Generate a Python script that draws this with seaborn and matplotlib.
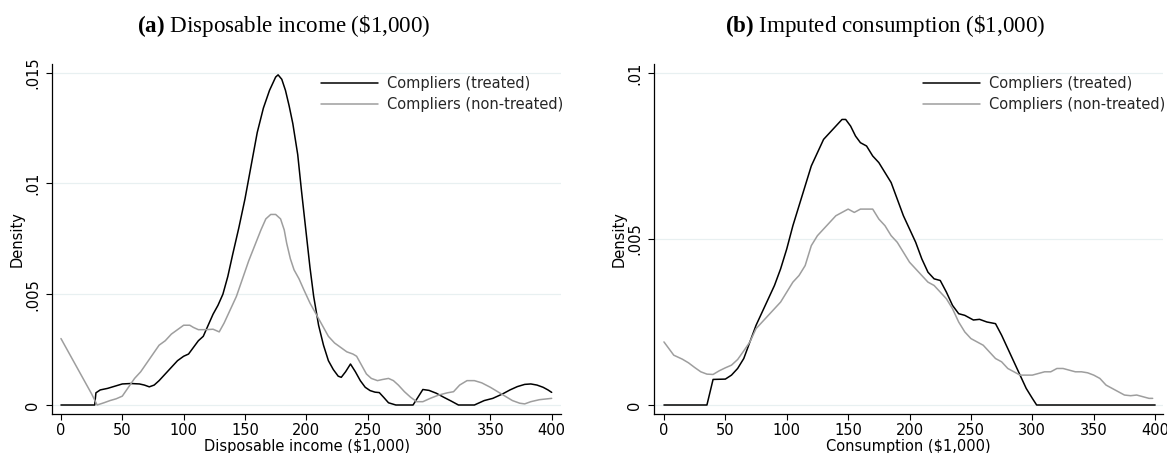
import matplotlib
matplotlib.use("Agg")
import matplotlib.pyplot as plt
import seaborn as sns
import pandas as pd

# ---------------- data ----------------
series_names = ["Compliers (treated)", "Compliers (non-treated)"]

inc_treat_x = [0, 27.5, 28.5, 32, 38, 44, 50, 57, 64, 68, 72, 76, 80, 85, 90, 95, 100, 104, 108, 112,
               116, 120, 124, 128, 132, 136, 140, 145, 150, 155, 160, 165, 170, 175, 177, 180, 183,
               186, 189, 193, 196, 200, 203, 206, 210, 214, 218, 222, 226, 228.5, 232, 236, 240, 244,
               248, 252, 256, 259.5, 263, 267, 273, 287, 291, 295, 300, 306, 312, 318, 324, 337, 345,
               352, 360, 366, 372, 378, 383, 388, 393, 397, 400]
inc_treat_y = [0, 0, 0.00055, 0.00068, 0.00075, 0.00085, 0.00095, 0.00097, 0.00095, 0.0009, 0.00082,
               0.0009, 0.0011, 0.0014, 0.0017, 0.002, 0.0022, 0.0023, 0.0026, 0.0029, 0.0031, 0.0036,
               0.0041, 0.0045, 0.005, 0.0058, 0.0068, 0.008, 0.0093, 0.0108, 0.0123, 0.0134, 0.0142,
               0.0148, 0.0149, 0.0147, 0.0142, 0.0135, 0.0127, 0.0113, 0.0097, 0.0077, 0.0062, 0.0049,
               0.0036, 0.0027, 0.002, 0.0016, 0.0013, 0.00125, 0.0015, 0.00185, 0.0015, 0.0011, 0.0008,
               0.00065, 0.00058, 0.00056, 0.00035, 0.0001, 0.0, 0.0, 0.00035, 0.0007, 0.00066, 0.00053,
               0.00035, 0.00018, 0.0, 0.0, 0.0002, 0.0003, 0.0005, 0.00068, 0.00083, 0.00093, 0.00095,
               0.0009, 0.0008, 0.00068, 0.00057]

inc_ctrl_x = [0, 5, 10, 15, 20, 25, 29.5, 35, 40, 45, 50, 55, 60, 65, 70, 75, 80, 85, 90, 95, 100, 105,
              108, 112, 118, 124, 129, 133, 138, 143, 148, 153, 158, 163, 167, 171, 175, 179, 182, 184,
              187, 190, 194, 198, 203, 207, 210, 214, 218, 223, 228, 233, 238, 241, 245, 249, 253, 258,
              262, 267, 271, 275, 280, 285, 290, 295, 301, 308, 315, 320, 325, 331, 337, 343, 350, 356,
              362, 368, 374, 378, 383, 390, 395, 400]
inc_ctrl_y = [0.003, 0.0025, 0.002, 0.0015, 0.001, 0.0005, 0.0, 0.0001, 0.0002, 0.00028, 0.0004, 0.0008,
              0.0012, 0.0015, 0.0019, 0.0023, 0.0027, 0.0029, 0.0032, 0.0034, 0.0036, 0.0036, 0.0035,
              0.0034, 0.0034, 0.00342, 0.0033, 0.0037, 0.0043, 0.0049, 0.0057, 0.0065, 0.0072, 0.0079,
              0.0084, 0.0086, 0.0086, 0.0084, 0.0079, 0.0073, 0.0066, 0.0061, 0.0057, 0.0052, 0.0046,
              0.0042, 0.0039, 0.0035, 0.0031, 0.0028, 0.0026, 0.0024, 0.0023, 0.0022, 0.0018, 0.0014,
              0.0012, 0.0011, 0.00115, 0.0012, 0.0011, 0.0009, 0.0006, 0.00035, 0.00015, 0.00015, 0.0003,
              0.00045, 0.00055, 0.0006, 0.0009, 0.0011, 0.0011, 0.001, 0.0008, 0.0006, 0.0004, 0.0002,
              0.00008, 0.00005, 0.00015, 0.00024, 0.00027, 0.0003]

con_treat_x = [0, 35, 40, 50, 55, 60, 65, 70, 75, 80, 85, 90, 95, 100, 105, 110, 115, 120, 125, 130, 135,
               140, 145, 148, 152, 156, 160, 165, 170, 175, 180, 185, 190, 195, 200, 205, 210, 215, 220,
               225, 230, 235, 240, 245, 252, 257, 263, 270, 275, 280, 285, 290, 295, 300, 303.5, 400]
con_treat_y = [0, 0, 0.00077, 0.00078, 0.0009, 0.0011, 0.0014, 0.0019, 0.0024, 0.0028, 0.0032, 0.0036,
               0.0041, 0.0047, 0.0054, 0.006, 0.0066, 0.0072, 0.0076, 0.008, 0.0082, 0.0084, 0.0086,
               0.0086, 0.0084, 0.0081, 0.0079, 0.0078, 0.0075, 0.0073, 0.007, 0.0067, 0.0062, 0.0057,
               0.0053, 0.0049, 0.0044, 0.004, 0.0038, 0.00375, 0.0034, 0.003, 0.00275, 0.0027, 0.00256,
               0.00258, 0.0025, 0.00245, 0.0021, 0.0017, 0.0013, 0.0009, 0.0005, 0.0002, 0.0, 0.0]

con_ctrl_x = [0, 4, 8, 15, 20, 25, 30, 35, 40, 45, 50, 55, 60, 65, 70, 75, 80, 85, 90, 95, 100, 105, 110,
              115, 120, 125, 130, 135, 140, 145, 150, 155, 160, 165, 170, 175, 180, 185, 190, 195, 200,
              205, 210, 215, 220, 225, 230, 235, 240, 245, 250, 255, 260, 265, 270, 275, 280, 285, 290,
              295, 300, 305, 310, 315, 320, 325, 330, 335, 340, 345, 350, 355, 360, 365, 370, 375, 380,
              385, 390, 395, 398]
con_ctrl_y = [0.0019, 0.0017, 0.0015, 0.00138, 0.00127, 0.00113, 0.001, 0.00093, 0.00092, 0.00103,
              0.00112, 0.0012, 0.00137, 0.00163, 0.0019, 0.0023, 0.0025, 0.0027, 0.0029, 0.0031, 0.0034,
              0.0037, 0.0039, 0.0042, 0.0048, 0.0051, 0.0053, 0.0055, 0.0057, 0.0058, 0.0059, 0.0058,
              0.0059, 0.0059, 0.0059, 0.0056, 0.0054, 0.0051, 0.0049, 0.0046, 0.0043, 0.0041, 0.0039,
              0.0037, 0.0036, 0.0034, 0.0032, 0.0029, 0.0025, 0.0022, 0.002, 0.0019, 0.0018, 0.0016,
              0.0014, 0.0013, 0.0011, 0.001, 0.0009, 0.0009, 0.0009, 0.00095, 0.001, 0.001, 0.0011,
              0.0011, 0.00105, 0.001, 0.001, 0.00097, 0.0009, 0.0008, 0.0006, 0.0005, 0.0004, 0.0003,
              0.00028, 0.0003, 0.00025, 0.0002, 0.0002]

x_ticks = [0, 50, 100, 150, 200, 250, 300, 350, 400]
inc_yticks = [0, 0.005, 0.01, 0.015]
inc_ylabels = ["0", ".005", ".01", ".015"]
con_yticks = [0, 0.005, 0.01]
con_ylabels = ["0", ".005", ".01"]

titles = [("(a)", "Disposable income (\\$1,000)"), ("(b)", "Imputed consumption (\\$1,000)")]
xlabels = ["Disposable income ($1,000)", "Consumption ($1,000)"]

# ---------------- style ----------------
sns.set_theme(style="white")
plt.rcParams["font.family"] = ["DejaVu Sans"]
plt.rcParams["mathtext.fontset"] = "custom"
plt.rcParams["mathtext.rm"] = "Liberation Serif"
plt.rcParams["mathtext.bf"] = "Liberation Serif:bold"

colors = {series_names[0]: "#000000", series_names[1]: "#9e9e9e"}
FS = 10.5

W, H = 1167, 453
fig = plt.figure(figsize=(W / 100, H / 100), dpi=100)
axL = fig.add_axes([52 / W, 1 - 414 / H, (561 - 52) / W, (414 - 64) / H])
axR = fig.add_axes([654 / W, 1 - 414 / H, (1163 - 654) / W, (414 - 64) / H])


def panel(ax, tx, ty, cx, cy, yticks, ylabels, ylim, xlim, xlabel):
    df = pd.concat([
        pd.DataFrame({"x": tx, "y": ty, "series": series_names[0]}),
        pd.DataFrame({"x": cx, "y": cy, "series": series_names[1]}),
    ], ignore_index=True)
    sns.lineplot(data=df, x="x", y="y", hue="series", palette=colors, sort=False,
                 estimator=None, linewidth=1.1, ax=ax, hue_order=series_names)
    ax.set_xlim(*xlim)
    ax.set_ylim(*ylim)
    ax.set_xticks(x_ticks)
    ax.set_xticklabels([str(t) for t in x_ticks])
    ax.set_yticks(yticks)
    ax.set_yticklabels(ylabels, rotation=90, va="center")
    ax.grid(axis="y", color="#e8f0f1", linewidth=0.9)
    ax.grid(axis="x", visible=False)
    ax.set_axisbelow(True)
    for s in ["top", "right"]:
        ax.spines[s].set_visible(False)
    for s in ["left", "bottom"]:
        ax.spines[s].set_color("#000000")
        ax.spines[s].set_linewidth(0.9)
    ax.tick_params(axis="both", direction="out", length=4.5, width=0.8, color="#000000",
                   labelsize=FS, labelcolor="#000000", left=True, bottom=True)
    ax.tick_params(axis="x", pad=2)
    ax.tick_params(axis="y", pad=4)
    ax.set_xlabel(xlabel, fontsize=FS, color="#000000", labelpad=1)
    ax.set_ylabel("Density", fontsize=FS, color="#000000")
    ax.yaxis.set_label_coords(-0.053, 0.5)
    leg = ax.legend(loc="upper right", bbox_to_anchor=(1.016, 0.983), frameon=False, fontsize=FS,
                    handlelength=3.9, handletextpad=0.65, labelspacing=0.4, borderaxespad=0.0,
                    borderpad=0.4)
    for h in leg.get_lines():
        h.set_linewidth(1.1)


panel(axL, inc_treat_x, inc_treat_y, inc_ctrl_x, inc_ctrl_y, inc_yticks, inc_ylabels,
      (-0.000406, 0.01539), (-7.3, 407.6), xlabels[0])
panel(axR, con_treat_x, con_treat_y, con_ctrl_x, con_ctrl_y, con_yticks, con_ylabels,
      (-0.000271, 0.01027), (-8.1, 406.4), xlabels[1])

for (lab, rest), x0 in zip(titles, [137, 725]):
    fig.text(x0 / W, 1 - 32 / H, r"$\mathbf{" + lab + "}$ " + rest, family="Liberation Serif",
             fontsize=16.6, ha="left", va="baseline", color="#000000")

fig.savefig("out.png", dpi=100)
